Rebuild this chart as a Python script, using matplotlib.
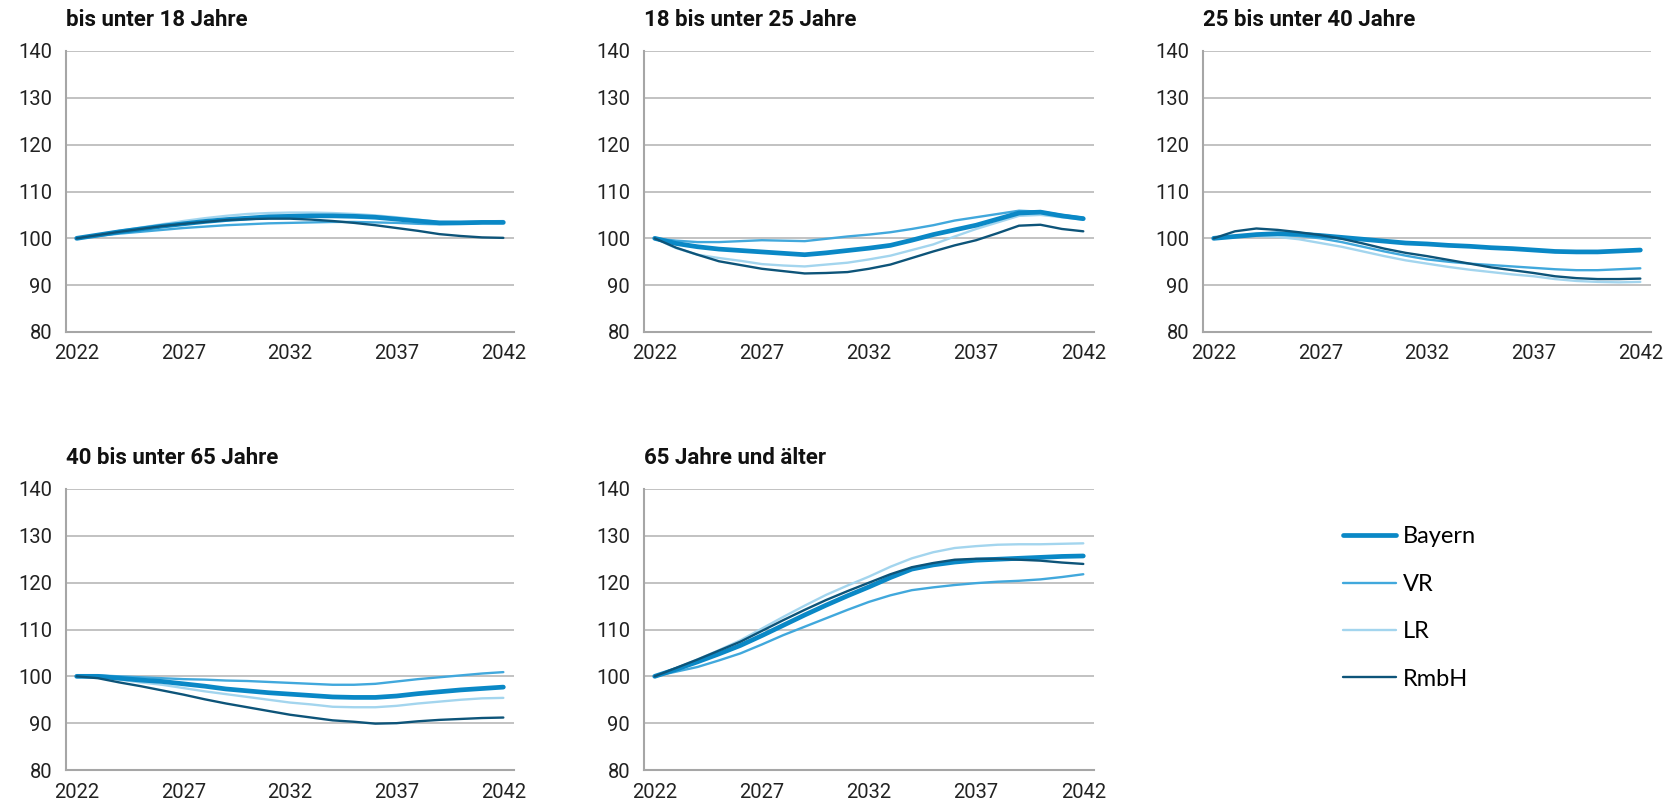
import matplotlib
matplotlib.use("Agg")
import matplotlib.pyplot as plt
from matplotlib.lines import Line2D

years = list(range(2022, 2043))

titles = ["bis unter 18 Jahre", "18 bis unter 25 Jahre", "25 bis unter 40 Jahre",
          "40 bis unter 65 Jahre", "65 Jahre und älter"]

series_names = ["Bayern", "VR", "LR", "RmbH"]

# index values (2022 = 100), one list per region and age group
bayern = [
    [100, 100.7, 101.4, 102.0, 102.6, 103.1, 103.6, 104.0, 104.3, 104.6, 104.7, 104.8, 104.8, 104.7, 104.5, 104.1, 103.7, 103.3, 103.3, 103.4, 103.4],
    [100, 98.9, 98.2, 97.7, 97.4, 97.1, 96.8, 96.5, 96.9, 97.4, 97.9, 98.5, 99.6, 100.8, 101.8, 102.8, 104.1, 105.4, 105.6, 104.8, 104.2],
    [100, 100.4, 100.8, 101.0, 100.9, 100.6, 100.2, 99.8, 99.4, 99.0, 98.8, 98.5, 98.3, 98.0, 97.8, 97.5, 97.2, 97.1, 97.1, 97.3, 97.5],
    [100, 100.0, 99.6, 99.2, 98.9, 98.4, 97.9, 97.3, 96.9, 96.5, 96.2, 95.9, 95.6, 95.5, 95.5, 95.8, 96.3, 96.7, 97.1, 97.4, 97.7],
    [100, 101.5, 103.1, 104.8, 106.6, 108.7, 110.9, 113.1, 115.2, 117.2, 119.1, 121.1, 122.9, 123.8, 124.4, 124.8, 125.0, 125.2, 125.4, 125.6, 125.7],
]
vr = [
    [100, 100.5, 101.0, 101.4, 101.8, 102.2, 102.5, 102.8, 103.0, 103.2, 103.3, 103.4, 103.5, 103.5, 103.4, 103.3, 103.1, 103.0, 103.1, 103.3, 103.5],
    [100, 99.5, 99.2, 99.2, 99.4, 99.6, 99.5, 99.4, 99.9, 100.4, 100.8, 101.3, 102.0, 102.8, 103.8, 104.5, 105.2, 105.9, 105.7, 105.0, 104.4],
    [100, 100.3, 100.6, 100.7, 100.5, 100.0, 99.2, 98.2, 97.2, 96.3, 95.5, 95.0, 94.6, 94.3, 94.0, 93.7, 93.4, 93.2, 93.2, 93.4, 93.6],
    [100, 100.2, 100.0, 99.8, 99.6, 99.4, 99.3, 99.1, 99.0, 98.8, 98.6, 98.4, 98.2, 98.2, 98.4, 98.9, 99.4, 99.8, 100.2, 100.6, 100.9],
    [100, 101.0, 102.0, 103.4, 104.9, 106.8, 108.8, 110.6, 112.4, 114.2, 115.9, 117.3, 118.4, 119.0, 119.5, 119.9, 120.2, 120.4, 120.7, 121.2, 121.8],
]
lr = [
    [100, 100.8, 101.6, 102.3, 103.0, 103.7, 104.3, 104.8, 105.2, 105.4, 105.5, 105.5, 105.4, 105.2, 104.9, 104.5, 104.0, 103.5, 103.5, 103.6, 103.7],
    [100, 97.9, 96.5, 95.8, 95.2, 94.5, 94.2, 94.0, 94.4, 94.8, 95.5, 96.3, 97.5, 98.7, 100.4, 102.0, 103.4, 104.8, 105.0, 104.5, 104.0],
    [100, 100.5, 100.5, 100.3, 99.8, 99.0, 98.2, 97.2, 96.2, 95.3, 94.6, 93.9, 93.3, 92.8, 92.3, 91.9, 91.3, 90.9, 90.7, 90.6, 90.7],
    [100, 100.0, 99.3, 98.7, 98.2, 97.5, 96.8, 96.2, 95.6, 95.0, 94.4, 94.0, 93.5, 93.4, 93.4, 93.7, 94.2, 94.6, 95.0, 95.3, 95.4],
    [100, 101.8, 103.6, 105.6, 107.7, 110.2, 112.7, 115.1, 117.4, 119.4, 121.3, 123.4, 125.2, 126.5, 127.4, 127.8, 128.1, 128.2, 128.2, 128.3, 128.4],
]
rmbh = [
    [100, 100.7, 101.4, 102.0, 102.6, 103.1, 103.5, 103.9, 104.1, 104.2, 104.2, 104.0, 103.7, 103.3, 102.8, 102.2, 101.6, 100.9, 100.5, 100.2, 100.1],
    [100, 98.0, 96.5, 95.1, 94.3, 93.5, 93.0, 92.5, 92.6, 92.8, 93.5, 94.4, 95.8, 97.2, 98.5, 99.6, 101.1, 102.7, 102.9, 102.0, 101.5],
    [100, 101.5, 102.1, 101.8, 101.3, 100.7, 99.9, 98.9, 97.8, 96.9, 96.2, 95.4, 94.6, 93.8, 93.2, 92.6, 91.9, 91.5, 91.3, 91.3, 91.4],
    [100, 99.6, 98.7, 97.9, 97.0, 96.1, 95.1, 94.2, 93.4, 92.6, 91.8, 91.2, 90.6, 90.3, 89.9, 90.0, 90.4, 90.7, 90.9, 91.1, 91.2],
    [100, 101.8, 103.6, 105.5, 107.4, 109.7, 112.0, 114.2, 116.3, 118.2, 120.0, 121.8, 123.3, 124.2, 124.9, 125.1, 125.1, 124.9, 124.7, 124.3, 124.0],
]

colors = {"Bayern": "#0a88c6", "VR": "#41a8dc", "LR": "#a3d5ee", "RmbH": "#0d5479"}
widths = {"Bayern": 3.4, "VR": 1.7, "LR": 1.7, "RmbH": 1.7}

W, H = 1674, 811
fig = plt.figure(figsize=(W / 100, H / 100), dpi=100)

# axes boxes in pixels: (left, top, width, height)
boxes = [(66, 51, 448, 281), (644, 51, 450, 281), (1203, 51, 448, 281),
         (66, 489, 448, 281), (644, 489, 450, 281)]

for i, (l, t, w, h) in enumerate(boxes):
    ax = fig.add_axes([l / W, 1 - (t + h) / H, w / W, h / H])
    data = {"Bayern": bayern[i], "VR": vr[i], "LR": lr[i], "RmbH": rmbh[i]}
    for name in ["VR", "LR", "Bayern", "RmbH"]:
        ax.plot(years, data[name], color=colors[name], lw=widths[name],
                solid_capstyle="round", solid_joinstyle="round", zorder=3)
    ax.set_xlim(2021.5, 2042.5)
    ax.set_ylim(80, 140)
    ax.set_yticks(range(80, 141, 10))
    ax.set_xticks([2022, 2027, 2032, 2037, 2042])
    ax.grid(axis="y", color="#bdbdbd", lw=1.3)
    ax.set_axisbelow(True)
    for s in ["top", "right"]:
        ax.spines[s].set_visible(False)
    for s in ["left", "bottom"]:
        ax.spines[s].set_color("#a6a6a6")
        ax.spines[s].set_linewidth(1.5)
    ax.tick_params(length=0, labelsize=14.5, labelcolor="#222222")
    ax.tick_params(axis="y", pad=10)
    ax.tick_params(axis="x", pad=9)
    for lab in ax.get_xticklabels() + ax.get_yticklabels():
        lab.set_family("Roboto")
    ax.text(0, 1 + 31 / h, titles[i], transform=ax.transAxes, ha="left", va="center",
            fontsize=16, fontweight="bold", family="Roboto", color="#111111")

handles = [Line2D([], [], color=colors[n], lw=widths[n], solid_capstyle="round") for n in series_names]
fig.legend(handles, series_names, loc="center left", bbox_to_anchor=(1343 / W, 1 - 608 / H),
           frameon=False, prop={"family": "Lato", "size": 17}, handlelength=2.25,
           handletextpad=0.3, labelspacing=1.12, borderpad=0, borderaxespad=0)

fig.savefig("out.png", dpi=100)
